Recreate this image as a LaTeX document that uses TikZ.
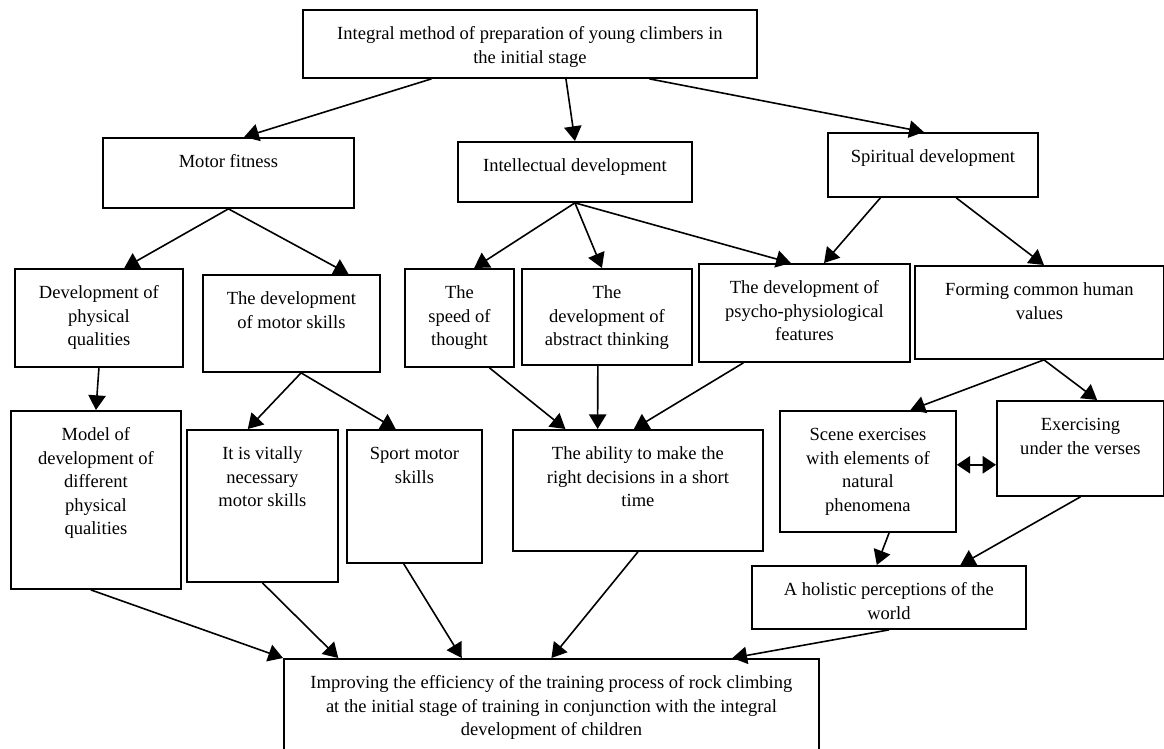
\documentclass[tikz,border=0pt]{standalone}
\usepackage{fontspec}
\setmainfont{Liberation Serif}
\usepackage{tikz}
\usetikzlibrary{arrows.meta,calc}

\newlength{\pxu}
\setlength{\pxu}{0.75pt}
\newcommand{\boxtext}[3]{\parbox[c][#2\pxu][t]{#1\pxu}{\centering\rule{0pt}{30\pxu}#3}}

\tikzset{
    blk/.style={draw, line width=1.4pt, inner sep=0pt, anchor=north west,
        font=\fontsize{13.9}{17.6}\selectfont},
    arr/.style={line width=1.2pt, -{Triangle[length=11pt,width=13pt]}},
    darr/.style={line width=1.2pt, {Triangle[length=10pt,width=13pt]}-{Triangle[length=10pt,width=13pt]}}
}

\begin{document}
\begin{tikzpicture}[x=0.75pt, y=-0.75pt]
            \useasboundingbox (0,0) rectangle (1164,749);
            \clip (0,0) rectangle (1164,749);

            \node[blk] (top) at (302,9) {\boxtext{454}{68}{Integral method of preparation of young climbers in\\the initial stage}};

            \node[blk] (motor) at (102,137) {\boxtext{251}{70}{Motor fitness}};
            \node[blk] (intel) at (457,141) {\boxtext{234}{60}{Intellectual development}};
            \node[blk] (spirit) at (827,132) {\boxtext{210}{64}{Spiritual development}};

            \node[blk] (phys) at (14,268) {\boxtext{168}{98}{Development of\\physical\\qualities}};
            \node[blk] (mskill) at (202,274) {\boxtext{177}{97}{The development\\of motor skills}};
            \node[blk] (speed) at (404,268) {\boxtext{109}{98}{The\\speed of\\thought}};
            \node[blk] (abstr) at (521,268) {\boxtext{170}{96}{The\\development of\\abstract thinking}};
            \node[blk] (psycho) at (698,263) {\boxtext{211}{98}{The development of\\psycho-physiological\\features}};
            \node[blk] (values) at (914,265) {\boxtext{249}{93}{Forming common human\\values}};

            \node[blk] (model) at (10,410) {\boxtext{170}{178}{Model of\\development of\\different\\physical\\qualities}};
            \node[blk] (vital) at (186,429) {\boxtext{151}{152}{It is vitally\\necessary\\motor skills}};
            \node[blk] (sport) at (346,429) {\boxtext{135}{133}{Sport motor\\skills}};
            \node[blk] (abil) at (512,429) {\boxtext{250}{121}{The ability to make the\\right decisions in a short\\time}};
            \node[blk] (scene) at (779,410) {\boxtext{176}{121}{Scene exercises\\with elements of\\natural\\phenomena}};
            \node[blk] (verse) at (996,400) {\boxtext{167}{95}{Exercising\\under the verses}};
            \node[blk] (world) at (751,565) {\boxtext{274}{63}{A holistic perceptions of the\\world}};

            \node[blk] (result) at (283,658) {\boxtext{535}{110}{Improving the efficiency of the training process of rock climbing\\at the initial stage of training in conjunction with the integral\\development of children}};

            \draw[arr] ($(top.south west)!.284!(top.south east)$) -- ($(motor.north west)!.562!(motor.north east)$);
            \draw[arr] ($(top.south west)!.579!(top.south east)$) -- ($(intel.north west)!.5!(intel.north east)$);
            \draw[arr] ($(top.south west)!.762!(top.south east)$) -- ($(spirit.north west)!.457!(spirit.north east)$);

            \draw[arr] (motor.south) -- ($(phys.north west)!.649!(phys.north east)$);
            \draw[arr] (motor.south) -- ($(mskill.north west)!.819!(mskill.north east)$);
            \draw[arr] (intel.south) -- ($(speed.north west)!.633!(speed.north east)$);
            \draw[arr] (intel.south) -- ($(abstr.north west)!.471!(abstr.north east)$);
            \draw[arr] (intel.south) -- ($(psycho.north west)!.436!(psycho.north east)$);
            \draw[arr] ($(spirit.south west)!.252!(spirit.south east)$) -- ($(psycho.north west)!.592!(psycho.north east)$);
            \draw[arr] ($(spirit.south west)!.61!(spirit.south east)$) -- ($(values.north west)!.518!(values.north east)$);

            \draw[arr] (phys.south) -- (model.north);
            \draw[arr] ($(mskill.south west)!.554!(mskill.south east)$) -- ($(vital.north west)!.404!(vital.north east)$);
            \draw[arr] ($(mskill.south west)!.554!(mskill.south east)$) -- ($(sport.north west)!.363!(sport.north east)$);
            \draw[arr] ($(speed.south west)!.771!(speed.south east)$) -- ($(abil.north west)!.212!(abil.north east)$);
            \draw[arr] ($(abstr.south west)!.447!(abstr.south east)$) -- ($(abil.north west)!.34!(abil.north east)$);
            \draw[arr] ($(psycho.south west)!.213!(psycho.south east)$) -- ($(abil.north west)!.484!(abil.north east)$);
            \draw[arr] ($(values.south west)!.518!(values.south east)$) -- ($(scene.north west)!.739!(scene.north east)$);
            \draw[arr] ($(values.south west)!.518!(values.south east)$) -- ($(verse.north west)!.599!(verse.north east)$);

            \coordinate (link) at ($(scene.north east)!.446!(scene.south east)$);
            \draw[darr] (link) -- (link -| verse.west);
            \draw[arr] ($(scene.south west)!.619!(scene.south east)$) -- ($(world.north west)!.456!(world.north east)$);
            \draw[arr] (verse.south) -- ($(world.north west)!.759!(world.north east)$);

            \draw[arr] ($(model.south west)!.47!(model.south east)$) -- (result.north west);
            \draw[arr] (vital.south) -- ($(result.north west)!.103!(result.north east)$);
            \draw[arr] ($(sport.south west)!.422!(sport.south east)$) -- ($(result.north west)!.333!(result.north east)$);
            \draw[arr] (abil.south) -- (result.north);
            \draw[arr] (world.south) -- ($(result.north west)!.837!(result.north east)$);
\end{tikzpicture}
\end{document}
